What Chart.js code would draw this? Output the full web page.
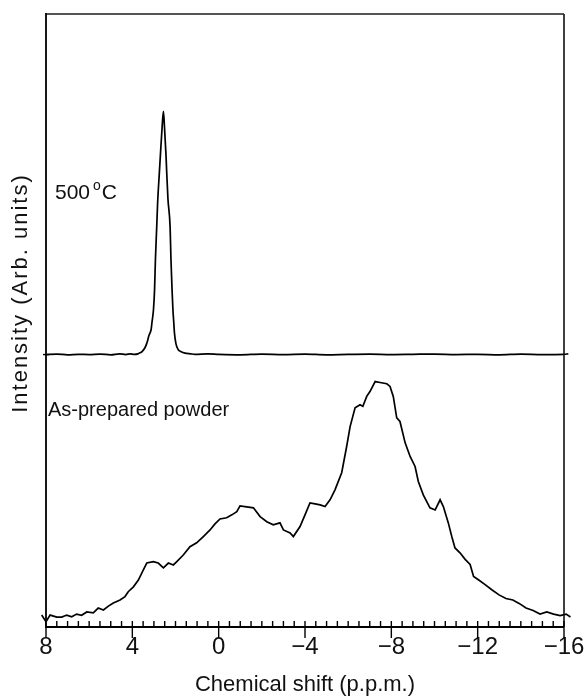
<!DOCTYPE html>
<html>
<head>
<meta charset="utf-8">
<script src="https://cdn.jsdelivr.net/npm/chart.js@4/dist/chart.umd.min.js"></script>
<style>
  html, body { margin: 0; padding: 0; background: #fff; }
  #wrap { width: 584px; height: 698px; }
</style>
</head>
<body>
<div id="wrap"><canvas id="c" width="584" height="698"></canvas></div>
<script>
// NMR spectra, chemical shift in p.p.m. (axis runs high -> low)
const shift500 = [8.0, 7.5, 7.0, 6.5, 6.0, 5.5, 5.0, 4.6, 4.3, 4.1,
  3.9, 3.74, 3.62, 3.55, 3.41, 3.32, 3.23, 3.13, 3.09, 3.02,
  2.97, 2.93, 2.87, 2.83, 2.75, 2.70, 2.62, 2.56, 2.51, 2.44,
  2.41, 2.35, 2.25, 2.21, 2.16, 2.12, 2.08, 2.05, 1.98, 1.88,
  1.74, 1.56, 1.30, 1.10, 0.5, 0, -1, -2, -3, -4,
  -5, -6, -7, -8, -9, -10, -11, -12, -13, -14,
  -15, -16, -16.2];
const int500 = [0.0, 0.2, -0.1, 0.1, 0.0, 0.2, -0.1, 0.3, 0.0, 0.3,
  0.1, 0.3, 0.8, 1.2, 2.9, 4.9, 7.8, 10.3, 13.2, 18.5,
  26.7, 39.1, 52.5, 62.0, 74.5, 82.0, 93.5, 100, 93.5, 82.0,
  75.5, 64.0, 52.5, 39.1, 26.7, 18.5, 13.2, 9.0, 4.5, 2.1,
  1.2, 0.6, 0.3, 0.1, 0.3, 0.1, -0.1, 0.2, 0.0, 0.2,
  -0.1, 0.1, 0.2, 0.0, 0.1, 0.2, 0.0, 0.1, -0.1, 0.2,
  0.0, 0.1, 0.3];

const shiftPowder = [8.2, 8.0, 7.81, 7.50, 7.27, 7.04, 6.81, 6.58, 6.35, 6.11,
  5.81, 5.58, 5.34, 5.11, 4.88, 4.57, 4.34, 4.19, 3.95, 3.72,
  3.49, 3.33, 3.03, 2.80, 2.56, 2.33, 2.10, 1.94, 1.64, 1.33,
  1.02, 0.71, 0.40, 0.17, -0.06, -0.37, -0.61, -0.84, -0.99, -1.30,
  -1.61, -1.92, -2.23, -2.53, -2.84, -3.00, -3.31, -3.46, -3.77, -4.00,
  -4.23, -4.47, -4.70, -4.93, -5.16, -5.39, -5.70, -5.93, -6.09, -6.32,
  -6.55, -6.68, -6.86, -7.01, -7.25, -7.48, -7.79, -7.94, -8.09, -8.25,
  -8.40, -8.64, -8.87, -9.10, -9.25, -9.48, -9.79, -10.03, -10.26, -10.41,
  -10.64, -10.80, -10.95, -11.18, -11.42, -11.65, -11.81, -12.05, -12.36, -12.67,
  -12.99, -13.31, -13.63, -13.94, -14.24, -14.57, -14.89, -15.20, -15.52, -15.82,
  -16.10, -16.30];
const intPowder = [4.9, 2.2, 4.9, 4.1, 4.1, 4.9, 4.2, 5.3, 4.8, 6.2,
  5.8, 7.8, 7.0, 8.6, 9.9, 11.1, 12.5, 14.5, 16.5, 19.3,
  23.5, 26.3, 26.9, 26.3, 24.3, 26.3, 25.5, 26.9, 29.6, 33.0,
  34.6, 37.2, 39.9, 42.4, 44.4, 44.9, 46.1, 47.4, 49.8, 49.4,
  49.0, 45.4, 43.3, 42.0, 42.8, 39.9, 38.7, 37.2, 41.3, 46.1,
  51.0, 50.6, 50.2, 49.5, 52.3, 56.4, 63.4, 74.2, 82.4, 90.1,
  91.4, 90.7, 94.8, 96.8, 100.9, 100.5, 100.0, 98.9, 94.8, 86.0,
  84.5, 75.7, 70.1, 66.0, 59.8, 54.3, 49.0, 48.1, 52.3, 49.5,
  42.8, 37.2, 32.5, 30.5, 27.8, 25.7, 20.8, 19.3, 17.3, 15.2,
  13.2, 11.7, 11.1, 9.6, 7.8, 6.8, 5.3, 6.2, 5.3, 4.7,
  5.3, 4.1];

const xTickValues = [8, 4, 0, -4, -8, -12, -16];
const minorStep = 0.5;
const offset500 = 112;      // vertical offset of the stacked 500 °C trace
const yMax = 252;

const FONT = '"Liberation Sans", Arial, Helvetica, sans-serif';

const toPoints = (xs, ys, off) => xs.map((x, i) => ({ x, y: ys[i] + off }));

// frame, tick marks and in-plot labels
const decorations = {
  id: 'decorations',
  afterDraw(chart) {
    const { ctx, chartArea: a, scales: { x, y } } = chart;
    ctx.save();
    // top and right frame lines
    ctx.strokeStyle = '#555';
    ctx.lineWidth = 2;
    ctx.beginPath();
    ctx.moveTo(a.left, a.top); ctx.lineTo(a.right, a.top);
    ctx.stroke();
    ctx.strokeStyle = '#111';
    ctx.lineWidth = 1.6;
    ctx.beginPath();
    ctx.moveTo(a.right, a.top); ctx.lineTo(a.right, a.bottom);
    ctx.stroke();
    // left and bottom axes
    ctx.strokeStyle = '#000';
    ctx.lineWidth = 1.8;
    ctx.beginPath();
    ctx.moveTo(a.left, a.top - 1); ctx.lineTo(a.left, a.bottom);
    ctx.lineTo(a.right, a.bottom);
    ctx.stroke();
    // x tick marks: minor inside, major through the axis
    ctx.lineWidth = 1.4;
    ctx.beginPath();
    const lo = Math.min(x.min, x.max), hi = Math.max(x.min, x.max);
    for (let v = hi; v >= lo - 1e-9; v -= minorStep) {
      const px = x.getPixelForValue(v);
      const major = xTickValues.some(t => Math.abs(t - v) < 1e-9);
      ctx.moveTo(px, a.bottom - 6);
      ctx.lineTo(px, major ? a.bottom + 11 : a.bottom);
    }
    ctx.stroke();
    // y tick at the baseline of the 500 °C trace
    const py = y.getPixelForValue(offset500);
    ctx.beginPath();
    ctx.moveTo(a.left - 3, py); ctx.lineTo(a.left + 3, py);
    ctx.stroke();

    // y-axis title
    ctx.fillStyle = '#111';
    ctx.font = '22px ' + FONT;
    ctx.letterSpacing = '2px';
    ctx.textAlign = 'center';
    ctx.textBaseline = 'middle';
    ctx.save();
    ctx.translate(21, 293);
    ctx.rotate(-Math.PI / 2);
    ctx.fillText('Intensity (Arb. units)', 0, 0);
    ctx.restore();
    ctx.letterSpacing = '0px';

    // trace labels
    ctx.textAlign = 'left';
    ctx.textBaseline = 'alphabetic';
    ctx.font = '21px ' + FONT;
    let tx = 55;
    const base = 199;
    ctx.fillText('500', tx, base);
    tx += ctx.measureText('500').width + 3;
    ctx.font = '14px ' + FONT;
    ctx.fillText('o', tx, base - 9);
    tx += ctx.measureText('o').width + 1;
    ctx.font = '21px ' + FONT;
    ctx.fillText('C', tx, base);

    ctx.font = '20px ' + FONT;
    ctx.fillText('As-prepared powder', 48, 416);
    ctx.restore();
  }
};

new Chart(document.getElementById('c'), {
  type: 'line',
  data: {
    datasets: [
      {
        label: '500 °C',
        data: toPoints(shift500, int500, offset500),
        borderColor: '#000',
        borderWidth: 1.7,
        pointRadius: 0,
        cubicInterpolationMode: 'monotone',
        clip: false
      },
      {
        label: 'As-prepared powder',
        data: toPoints(shiftPowder, intPowder, 0),
        borderColor: '#000',
        borderWidth: 1.7,
        pointRadius: 0,
        tension: 0,
        clip: false
      }
    ]
  },
  options: {
    responsive: false,
    animation: false,
    devicePixelRatio: 1,
    layout: { padding: { top: 14, right: 20, left: 0, bottom: 0 } },
    plugins: { legend: { display: false }, tooltip: { enabled: false } },
    scales: {
      x: {
        type: 'linear',
        min: -16,
        max: 8,
        reverse: true,
        afterBuildTicks: s => { s.ticks = xTickValues.map(v => ({ value: v })); },
        afterFit: s => { s.height = 71; s.paddingLeft = 0; s.paddingRight = 0; },
        grid: { display: false, drawTicks: false },
        border: { display: false },
        ticks: {
          padding: 6,
          color: '#111',
          maxRotation: 0,
          autoSkip: false,
          font: { family: FONT, size: 24 },
          callback: v => (v < 0 ? '\u2212' + Math.abs(v) : String(v))
        },
        title: {
          display: true,
          text: 'Chemical shift (p.p.m.)',
          color: '#111',
          padding: { top: 0, bottom: 0 },
          font: { family: FONT, size: 22 }
        }
      },
      y: {
        type: 'linear',
        min: 0,
        max: yMax,
        afterFit: s => { s.width = 46; },
        grid: { display: false, drawTicks: false },
        border: { display: false },
        ticks: { display: false }
      }
    }
  },
  plugins: [decorations]
});
</script>
</body>
</html>
